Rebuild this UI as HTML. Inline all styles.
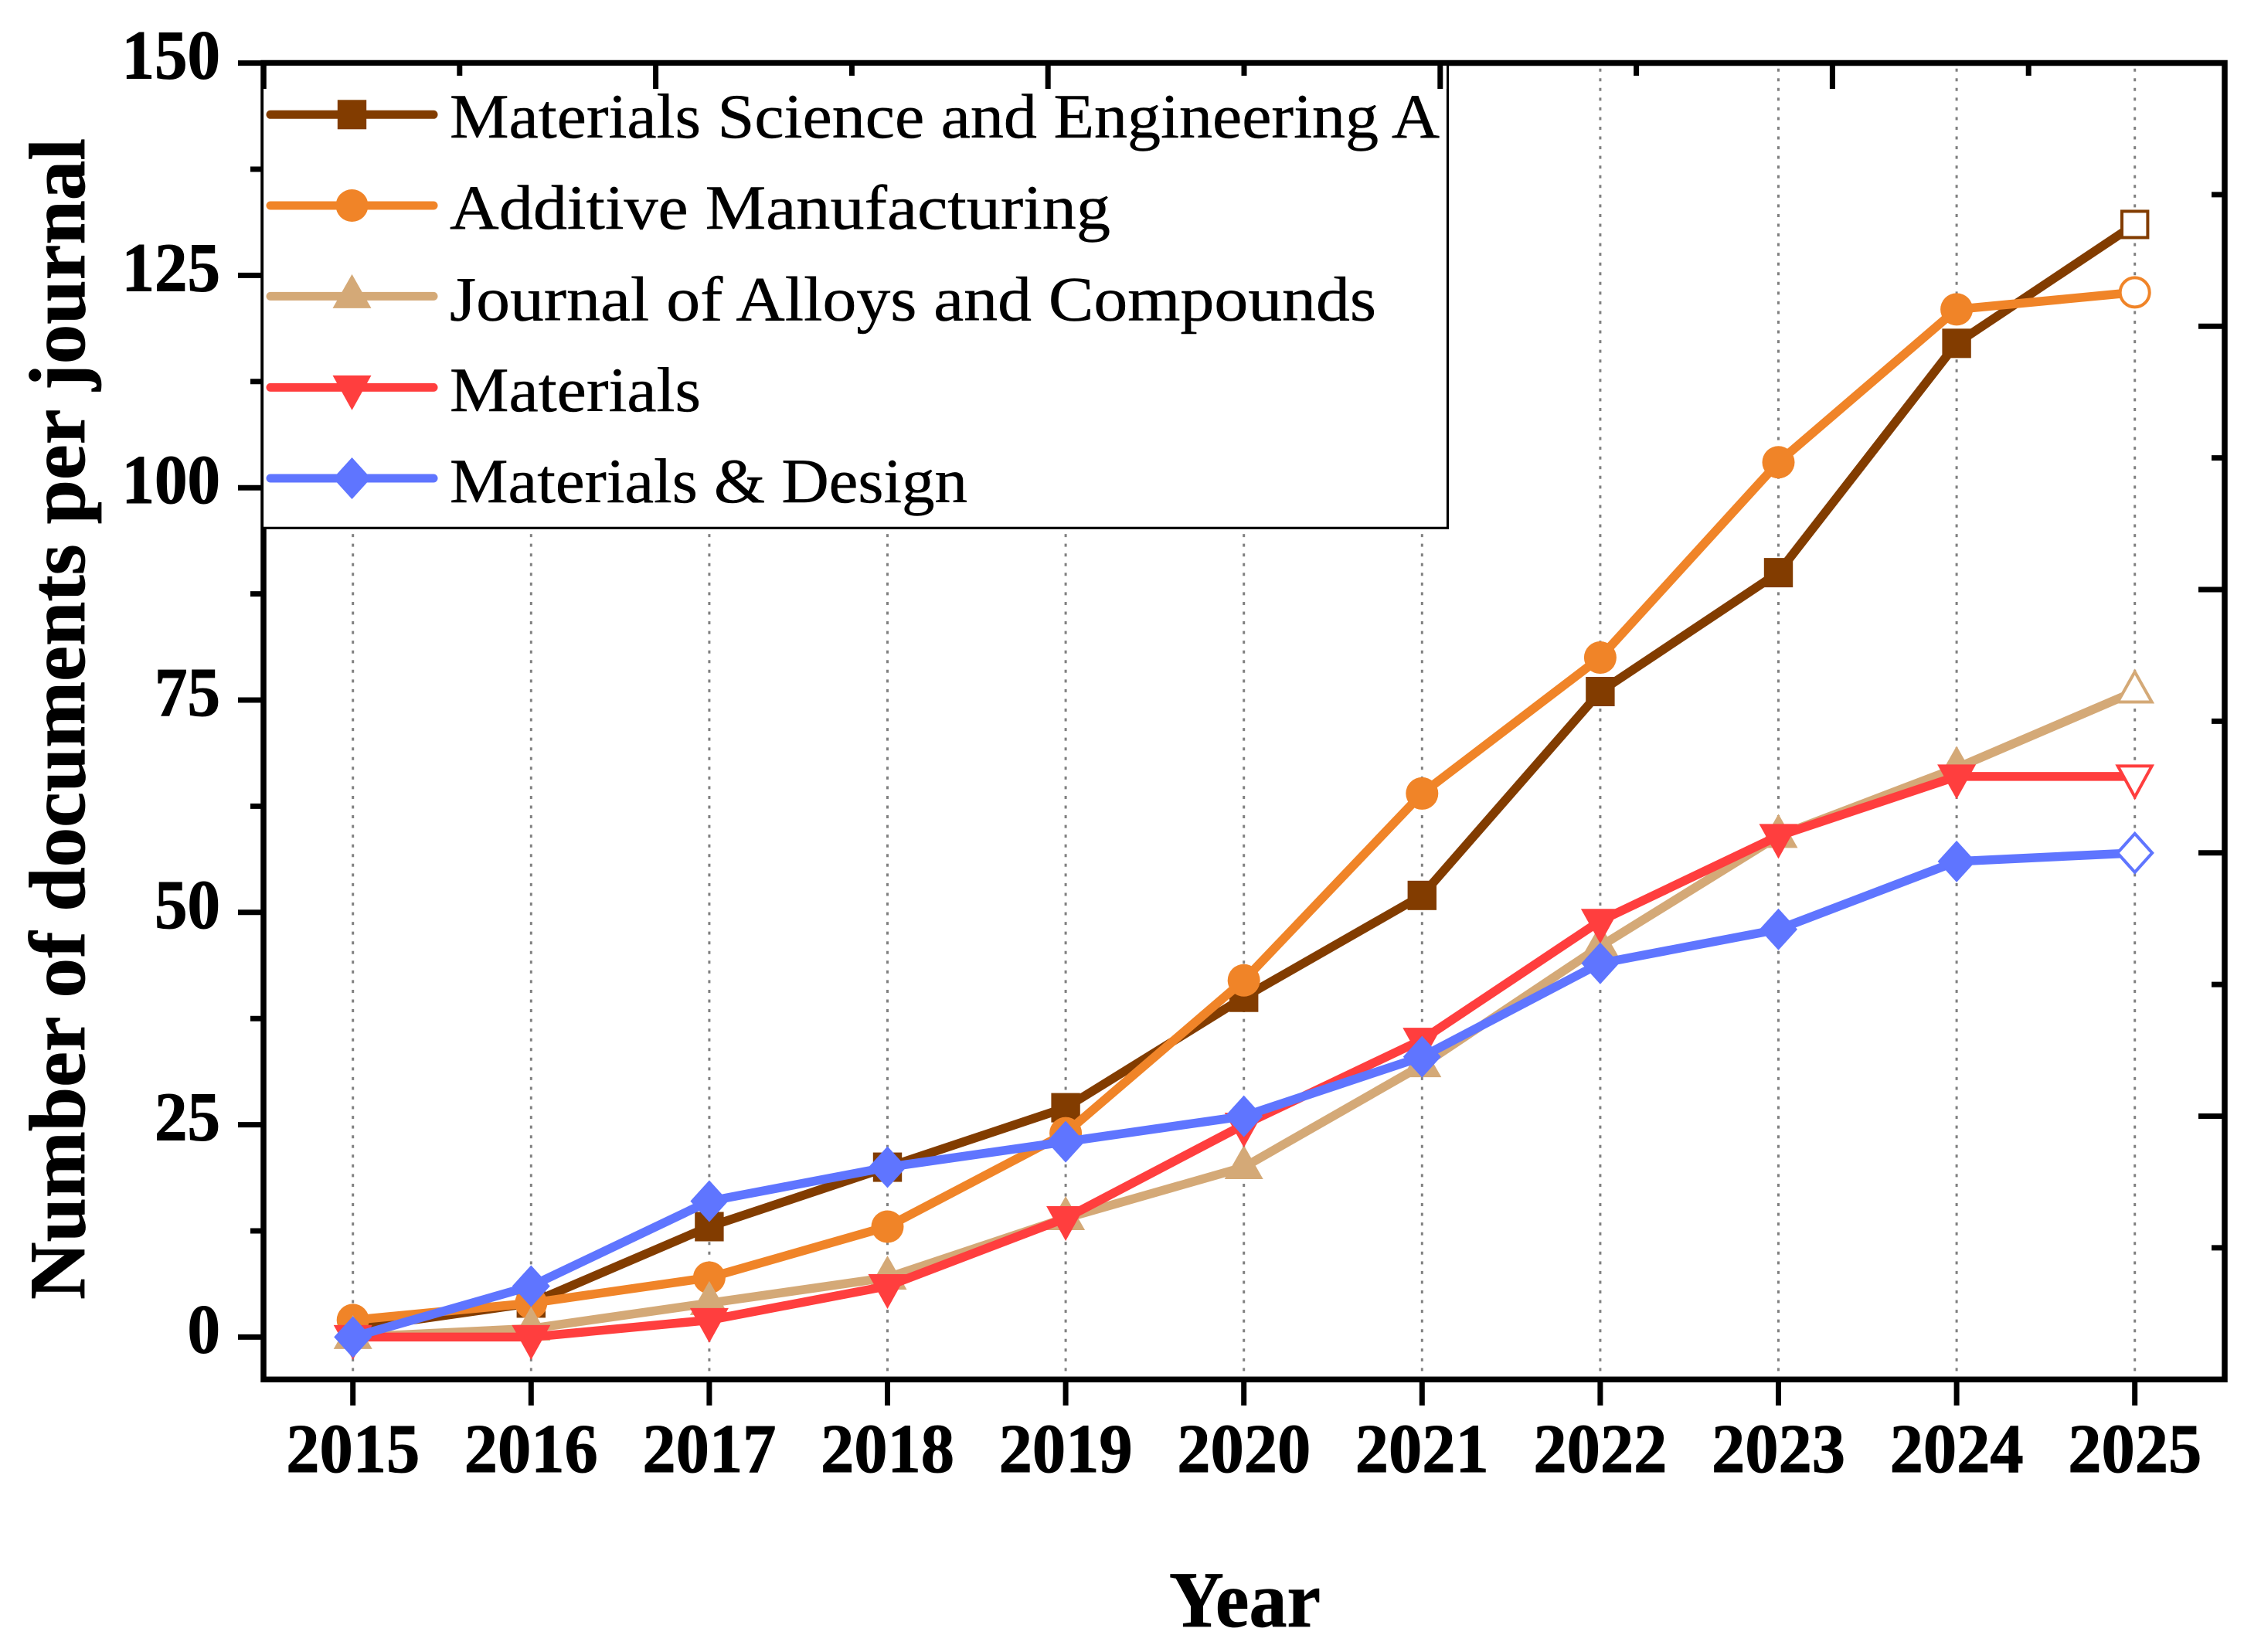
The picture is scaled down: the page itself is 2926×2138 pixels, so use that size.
<!DOCTYPE html>
<html lang="en">
<head>
<meta charset="utf-8">
<title>Number of documents per journal</title>
<style>
html,body{margin:0;padding:0;background:#fff;}
svg{display:block;}
text{font-family:"Liberation Serif",serif;fill:#000;}
.legend-label{font-size:82px;stroke:#000;stroke-width:0.5px;}
.tick-label{font-size:90px;font-weight:bold;stroke:#000;stroke-width:1px;}
.axis-title{font-size:103px;font-weight:bold;stroke:#000;stroke-width:0.8px;}
</style>
</head>
<body>
<svg id="chart" xmlns="http://www.w3.org/2000/svg" width="2926" height="2138" viewBox="0 0 2926 2138">
  <rect x="0" y="0" width="2926" height="2138" fill="#ffffff"/>
  <g id="grid"></g>
  <g id="series"></g>
  <rect x="341" y="81.5" width="2538" height="1703.8" fill="none" stroke="#000" stroke-width="7.5"/>
  <g id="ticks"></g>
  <rect x="339.5" y="115" width="1534" height="568.3" fill="#fff" stroke="none"/>
  <path d="M339.5 115V683.3H1873.5V85" fill="none" stroke="#000" stroke-width="3.2"/>
  <rect x="345" y="85" width="1527" height="30" fill="#fff"/>
  <g id="top-ticks"></g>
  <g id="legend">
    <text class="legend-label" x="582" y="178" textLength="1281" lengthAdjust="spacingAndGlyphs">Materials Science and Engineering A</text>
    <text class="legend-label" x="582" y="296" textLength="855" lengthAdjust="spacingAndGlyphs">Additive Manufacturing</text>
    <text class="legend-label" x="582" y="414.5" textLength="1199" lengthAdjust="spacingAndGlyphs">Journal of Alloys and Compounds</text>
    <text class="legend-label" x="582" y="532" textLength="325" lengthAdjust="spacingAndGlyphs">Materials</text>
    <text class="legend-label" x="582" y="650" textLength="670" lengthAdjust="spacingAndGlyphs">Materials &amp; Design</text>
  </g>
  <g id="tick-labels"></g>
  <text class="axis-title" x="1611" y="2105" text-anchor="middle" textLength="196" lengthAdjust="spacingAndGlyphs">Year</text>
  <text class="axis-title" transform="translate(109,1682) rotate(-90)" x="0" y="0" textLength="1503" lengthAdjust="spacingAndGlyphs">Number of documents per journal</text>
</svg>
<script>
const years = ['2015','2016','2017','2018','2019','2020','2021','2022','2023','2024','2025'];
const yTickValues = [0,25,50,75,100,125,150];
const yMinorValues = [12.5,37.5,62.5,87.5,112.5,137.5];
const seriesNames = ['msea','additive-manufacturing','jac','materials','materials-design'];
const mseaValues = [1,4,13,20,27,40,52,76,90,117,131];
const additiveValues = [2,4,7,13,24,42,64,80,103,121,123];
const jacValues = [0,1,4,7,14,20,32,46,59,67,76];
const materialsValues = [0,0,2,6,14,25,35,49,59,66,66];
const designValues = [0,6,16,20,23,26,33,44,48,56,57];

const NS = 'http://www.w3.org/2000/svg';
const xScale = i => 456.7 + i * 230.6;
const yScale = v => 1730.4 - v * (1648.8 / 150);
const seriesValues = [mseaValues, additiveValues, jacValues, materialsValues, designValues];
const seriesColors = ['#823C00','#F08428','#D4A977','#FF3E3E','#5F75FF'];
const seriesMarkers = ['square','circle','up','down','diamond'];

function make(tag, attrs, parent) {
  const node = document.createElementNS(NS, tag);
  for (const k in attrs) node.setAttribute(k, attrs[k]);
  parent.appendChild(node);
  return node;
}
function markerShape(kind, cx, cy, color, open, parent) {
  const fill = open ? '#fff' : color;
  const stroke = color;
  const sw = open ? 4 : 0;
  const base = {fill: fill, stroke: stroke, 'stroke-width': sw};
  const inset = open ? 2 : 0;
  if (kind === 'square') {
    return make('rect', Object.assign({x: cx - 18.7 + inset, y: cy - 19 + inset, width: 37.4 - 2 * inset, height: 38 - 2 * inset}, base), parent);
  }
  if (kind === 'circle') {
    return make('circle', Object.assign({cx: cx, cy: cy, r: 21 - inset}, base), parent);
  }
  let pts;
  if (kind === 'up') {
    pts = [[cx, cy - 28.5 + inset * 1.5],[cx + 25 - inset * 1.5, cy + 15.5 - inset],[cx - 25 + inset * 1.5, cy + 15.5 - inset]];
  } else if (kind === 'down') {
    pts = [[cx - 25 + inset * 1.5, cy - 15.5 + inset],[cx + 25 - inset * 1.5, cy - 15.5 + inset],[cx, cy + 29.5 - inset * 1.5]];
  } else {
    pts = [[cx, cy - 27 + inset],[cx + 24.5 - inset, cy],[cx, cy + 27 - inset],[cx - 24.5 + inset, cy]];
  }
  return make('polygon', Object.assign({points: pts.map(p => p.join(',')).join(' ')}, base), parent);
}

/* gridlines */
const gridLayer = document.getElementById('grid');
years.forEach((yr, i) => {
  const g = make('line', {x1: xScale(i), x2: xScale(i), y1: 88.7, y2: 1780, stroke: '#808080', 'stroke-width': 3, 'stroke-dasharray': '4 8.55'}, gridLayer);
  
  
});

/* series */
const seriesLayer = document.getElementById('series');
seriesValues.forEach((vals, s) => {
  const grp = make('g', {}, seriesLayer);
  
  
  const pts = vals.map((v, i) => xScale(i) + ',' + yScale(v)).join(' ');
  const line = make('polyline', {points: pts, fill: 'none', stroke: seriesColors[s], 'stroke-width': 11.5, 'stroke-linejoin': 'round', 'stroke-linecap': 'round'}, grp);
  
  
  vals.forEach((v, i) => {
    const m = markerShape(seriesMarkers[s], xScale(i), yScale(v), seriesColors[s], i === vals.length - 1, grp);
    
    
  });
});

/* left, bottom and right ticks */
const tickLayer = document.getElementById('ticks');
yTickValues.forEach(v => {
  const t = make('line', {x1: 308, x2: 341, y1: yScale(v), y2: yScale(v), stroke: '#000', 'stroke-width': 7}, tickLayer);
  
  
});
yMinorValues.forEach(v => {
  const t = make('line', {x1: 324, x2: 341, y1: yScale(v), y2: yScale(v), stroke: '#000', 'stroke-width': 7}, tickLayer);
  
  
});
years.forEach((yr, i) => {
  const t = make('line', {x1: xScale(i), x2: xScale(i), y1: 1785, y2: 1819, stroke: '#000', 'stroke-width': 7}, tickLayer);
  
  
});
for (let k = 1; k < 10; k++) {
  const y = 81.5 + k * 170.38;
  const t = make('line', {x1: k % 2 ? 2862 : 2845, x2: 2879, y1: y, y2: y, stroke: '#000', 'stroke-width': 7}, tickLayer);
  
  
}

/* top ticks sit above the legend */
const topLayer = document.getElementById('top-ticks');
for (let k = 0; k < 10; k++) {
  const x = 341 + k * 253.8;
  const t = make('line', {x1: x, x2: x, y1: 81.5, y2: k % 2 ? 98 : 115, stroke: '#000', 'stroke-width': 7}, topLayer);
  
  
}

/* tick labels */
const labelLayer = document.getElementById('tick-labels');
yTickValues.forEach(v => {
  const s = String(v);
  const t = make('text', {class: 'tick-label', x: 285, y: yScale(v) + 20, 'text-anchor': 'end', textLength: s.length * 42.5, lengthAdjust: 'spacingAndGlyphs'}, labelLayer);
  t.textContent = s;
  
  
});
years.forEach((yr, i) => {
  const t = make('text', {class: 'tick-label', x: xScale(i), y: 1905, 'text-anchor': 'middle', textLength: 173, lengthAdjust: 'spacingAndGlyphs'}, labelLayer);
  t.textContent = yr;
  
  
});

/* legend keys */
const legendLayer = document.getElementById('legend');
const legendY = [148.3, 266, 383.4, 501.4, 619];
seriesNames.forEach((name, s) => {
  const line = make('line', {x1: 350, x2: 561, y1: legendY[s], y2: legendY[s], stroke: seriesColors[s], 'stroke-width': 11, 'stroke-linecap': 'round'}, legendLayer);
  
  
  const m = markerShape(seriesMarkers[s], 455.5, legendY[s], seriesColors[s], false, legendLayer);
  
  
});
</script>
</body>
</html>
